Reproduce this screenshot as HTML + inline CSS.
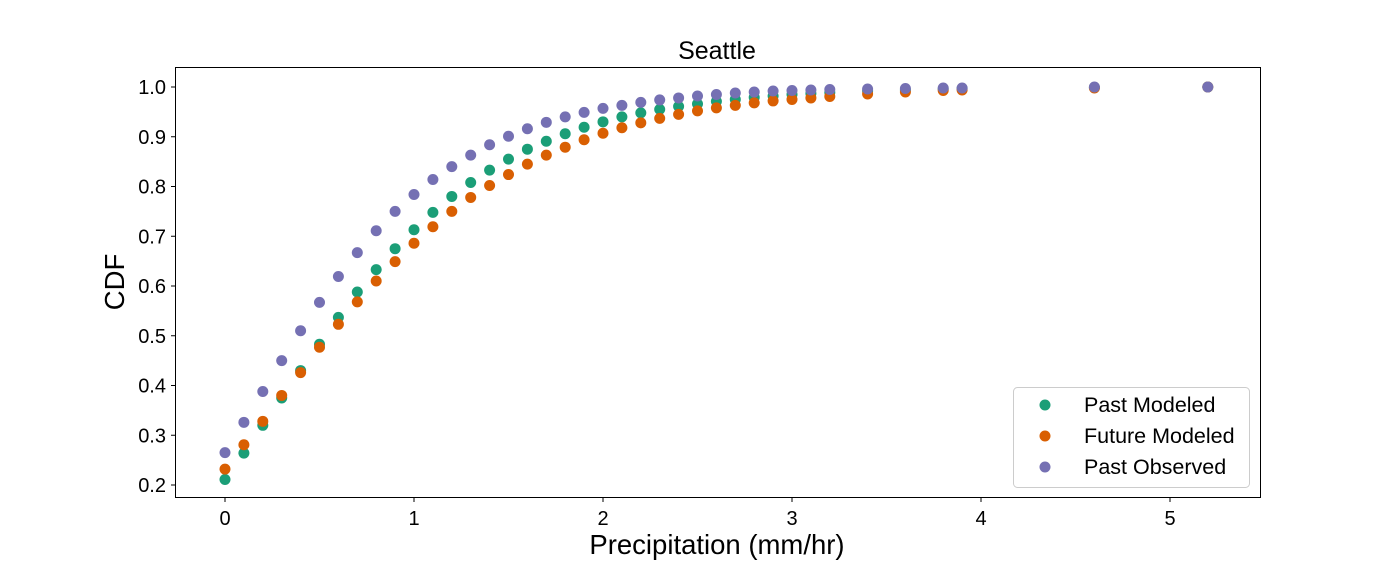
<!DOCTYPE html>
<html><head><meta charset="utf-8"><style>body{margin:0;background:#fff}svg text{font-family:"Liberation Sans",Arial,sans-serif;fill:#000}</style></head>
<body>
<svg id="chart" width="1400" height="560" xmlns="http://www.w3.org/2000/svg">
<rect x="175.5" y="67.5" width="1085" height="430" fill="none" stroke="#000" stroke-width="1"/>
<text x="717" y="59" font-size="25" text-anchor="middle">Seattle</text>
<text x="717" y="554" font-size="27.5" text-anchor="middle">Precipitation (mm/hr)</text>
<text transform="translate(124,282) rotate(-90)" font-size="27.5" text-anchor="middle">CDF</text>
<g id="axes"></g>
<g id="marks"></g>
<g>
<rect x="1013.5" y="387.5" width="236" height="100" rx="4" fill="#fff" stroke="#ccc"/>
<circle cx="1045" cy="405" r="5.5" fill="#1b9e77"/><text x="1084" y="412" font-size="21.5">Past Modeled</text>
<circle cx="1045" cy="436" r="5.5" fill="#d95f02"/><text x="1084" y="443" font-size="21.5">Future Modeled</text>
<circle cx="1045" cy="467" r="5.5" fill="#7570b3"/><text x="1084" y="474" font-size="21.5">Past Observed</text>
</g>
</svg>
<script>
const xVals=[0,0.1,0.2,0.3,0.4,0.5,0.6,0.7,0.8,0.9,1.0,1.1,1.2,1.3,1.4,1.5,1.6,1.7,1.8,1.9,2.0,2.1,2.2,2.3,2.4,2.5,2.6,2.7,2.8,2.9,3.0,3.1,3.2,3.4,3.6,3.8,3.9,4.6,5.2];
const pastModeled=[0.211,0.264,0.32,0.375,0.43,0.483,0.537,0.588,0.633,0.675,0.713,0.748,0.78,0.808,0.833,0.855,0.875,0.891,0.906,0.919,0.93,0.94,0.948,0.955,0.961,0.966,0.971,0.975,0.979,0.982,0.985,0.987,0.989,0.992,0.994,0.996,0.997,0.999,1.0];
const futureModeled=[0.232,0.281,0.328,0.38,0.426,0.477,0.523,0.568,0.61,0.649,0.686,0.719,0.75,0.778,0.802,0.824,0.845,0.863,0.879,0.894,0.907,0.918,0.928,0.937,0.945,0.952,0.958,0.963,0.968,0.972,0.975,0.978,0.981,0.986,0.99,0.993,0.994,0.998,1.0];
const pastObserved=[0.265,0.326,0.388,0.45,0.51,0.567,0.619,0.667,0.711,0.75,0.784,0.814,0.84,0.863,0.884,0.901,0.916,0.929,0.94,0.949,0.957,0.963,0.969,0.974,0.978,0.982,0.985,0.988,0.99,0.992,0.993,0.994,0.995,0.996,0.997,0.998,0.998,1.0,1.0];
const xTicks=[0,1,2,3,4,5];
const yTicks=[0.2,0.3,0.4,0.5,0.6,0.7,0.8,0.9,1.0];
const NS='http://www.w3.org/2000/svg';
function sx(v){return 225+v*189;}
function sy(v){return 485-(v-0.2)*497.5;}
const axes=document.getElementById('axes'),marks=document.getElementById('marks');
function mk(tag,attrs,parent){const e=document.createElementNS(NS,tag);for(const k in attrs)e.setAttribute(k,attrs[k]);parent.appendChild(e);return e;}
xTicks.forEach(t=>{
  const l=mk('line',{x1:sx(t),x2:sx(t),y1:497.5,y2:502,stroke:'#000'},axes);
  
  
  const tx=mk('text',{x:sx(t),y:525,'font-size':20,'text-anchor':'middle'},axes);tx.textContent=t;
  
  
});
yTicks.forEach(t=>{
  const l=mk('line',{x1:171,x2:175.5,y1:sy(t),y2:sy(t),stroke:'#000'},axes);
  
  
  const tx=mk('text',{x:166,y:sy(t)+7,'font-size':20,'text-anchor':'end'},axes);tx.textContent=t.toFixed(1);
  
  
});
[[pastModeled,'#1b9e77','past-modeled-point'],[futureModeled,'#d95f02','future-modeled-point'],[pastObserved,'#7570b3','past-observed-point']].forEach(([arr,c,n])=>{
  arr.forEach((v,i)=>{
    const p=mk('circle',{cx:sx(xVals[i]),cy:sy(v),r:5.5,fill:c},marks);
    
    
  });
});
</script>
</body></html>
